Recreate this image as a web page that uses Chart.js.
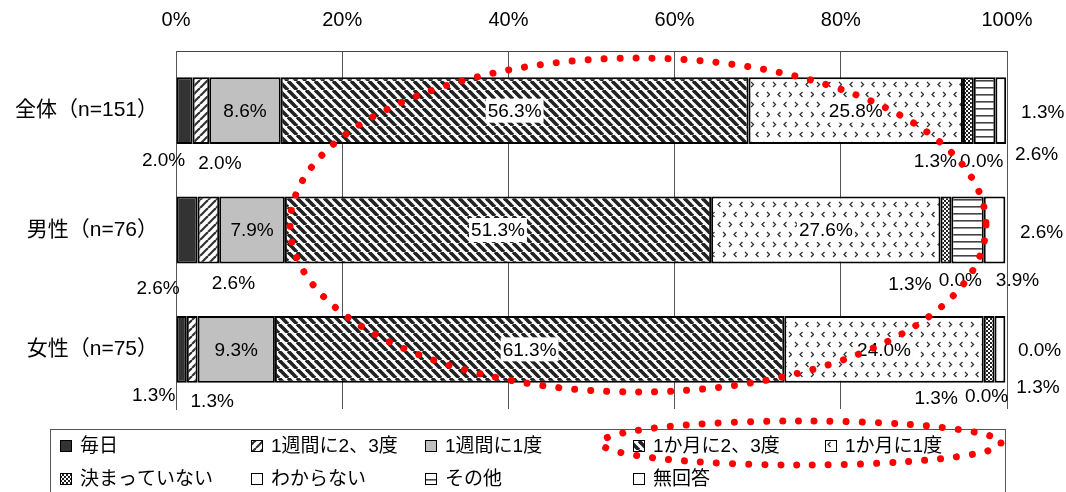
<!DOCTYPE html>
<html lang="ja">
<head>
<meta charset="utf-8">
<script src="https://cdn.jsdelivr.net/npm/chart.js@4.4.1/dist/chart.umd.min.js"></script>
<style>
html, body { margin: 0; padding: 0; background: #fff; }
</style>
</head>
<body>
<canvas id="myChart" width="1066" height="492"></canvas>
<script>
const categories = ['全体（n=151）', '男性（n=76）', '女性（n=75）'];
const seriesNames = ['毎日', '1週間に2、3度', '1週間に1度', '1か月に2、3度', '1か月に1度', '決まっていない', 'わからない', 'その他', '無回答'];
const everyDay = [2.0, 2.6, 1.3];
const weekTwoThree = [2.0, 2.6, 1.3];
const weekOnce = [8.6, 7.9, 9.3];
const monthTwoThree = [56.3, 51.3, 61.3];
const monthOnce = [25.8, 27.6, 24.0];
const notFixed = [1.3, 1.3, 1.3];
const dontKnow = [0.0, 0.0, 0.0];
const other = [2.6, 3.9, 0.0];
const noAnswer = [1.3, 2.6, 1.3];
const tickValues = [0, 20, 40, 60, 80, 100];

const FONT = '"Liberation Sans", "Noto Sans CJK JP", sans-serif';
const ctx = document.getElementById('myChart').getContext('2d');

function makePattern(w, h, draw) {
    const c = document.createElement('canvas');
    c.width = w; c.height = h;
    const g = c.getContext('2d');
    g.fillStyle = '#fff';
    g.fillRect(0, 0, w, h);
    draw(g, w, h);
    return ctx.createPattern(c, 'repeat');
}

// "/" thin stripes
const slashPattern = makePattern(8, 8, (g, w, h) => {
    g.strokeStyle = '#333'; g.lineWidth = 2.2;
    for (let k = -1; k <= 1; k++) {
        g.beginPath(); g.moveTo(k * w, h); g.lineTo(k * w + w, 0); g.stroke();
    }
});
// "\" heavy stripes
const backslashPattern = makePattern(9, 9, (g, w, h) => {
    g.strokeStyle = '#222'; g.lineWidth = 3.6;
    for (let k = -1; k <= 1; k++) {
        g.beginPath(); g.moveTo(k * w, 0); g.lineTo(k * w + w, h); g.stroke();
    }
});
// small chevrons
const chevronPattern = makePattern(22, 20, (g) => {
    g.strokeStyle = '#333'; g.lineWidth = 1.3;
    const gt = (x, y) => { g.beginPath(); g.moveTo(x, y); g.lineTo(x + 2.5, y + 2.5); g.lineTo(x, y + 5); g.stroke(); };
    const lt = (x, y) => { g.beginPath(); g.moveTo(x + 2.5, y); g.lineTo(x, y + 2.5); g.lineTo(x + 2.5, y + 5); g.stroke(); };
    gt(3, 2); lt(14, 2); lt(8, 12); gt(19, 12);
});
const checkerPattern = makePattern(4, 4, (g) => {
    g.fillStyle = '#222';
    g.fillRect(0, 0, 2, 2); g.fillRect(2, 2, 2, 2);
});
const hLinePattern = makePattern(8, 7, (g) => {
    g.fillStyle = '#444';
    g.fillRect(0, 3, 8, 1.6);
});

const seriesValues = [everyDay, weekTwoThree, weekOnce, monthTwoThree, monthOnce, notFixed, dontKnow, other, noAnswer];
const seriesFills = ['#333333', slashPattern, '#C0C0C0', backslashPattern, chevronPattern, checkerPattern, '#ffffff', hLinePattern, '#ffffff'];

// where the small-segment labels sit, relative to segment centre / bar centre
const smallLabelNudge = {
    0: [[-21, 49], [-29, 58], [-28, 45]],
    1: [[19, 52], [25, 53], [20, 51]],
    5: [[-33, 50], [-36, 54], [-53, 48]],
    6: [[8, 50], [9, 50], [-8, 46]],
    7: [[52, 43], [50, 50], [45, 0]],
    8: [[42, 1], [47, 2], [38, 37]]
};
const boxedSeries = [3, 4];

const segLabels = {
    id: 'segLabels',
    afterDatasetsDraw(chart) {
        const c = chart.ctx;
        c.save();
        c.font = '19px ' + FONT;
        c.textAlign = 'center';
        c.textBaseline = 'middle';
        chart.data.datasets.forEach((ds, si) => {
            chart.getDatasetMeta(si).data.forEach((bar, ci) => {
                const p = bar.getProps(['x', 'y', 'base'], true);
                const txt = ds.data[ci].toFixed(1) + '%';
                let cx = (p.x + p.base) / 2, cy = p.y;
                const nudge = smallLabelNudge[si];
                if (nudge) {
                    cx += nudge[ci][0]; cy += nudge[ci][1];
                } else if (boxedSeries.includes(si)) {
                    const w = c.measureText(txt).width;
                    c.fillStyle = '#fff';
                    c.fillRect(cx - w / 2 - 2, cy - 12, w + 4, 24);
                }
                c.fillStyle = '#000';
                c.fillText(txt, cx, cy + 1);
            });
        });
        c.restore();
    }
};

function dottedEllipse(c, x, y, rx, ry) {
    c.save();
    c.strokeStyle = '#FF0000';
    c.lineWidth = 7;
    c.lineCap = 'round';
    c.setLineDash([0.01, 16]);
    c.beginPath();
    c.ellipse(x, y, rx, ry, 0, 0, Math.PI * 2);
    c.stroke();
    c.restore();
}

const legendCols = [60, 251, 425, 633, 825];
const legendRows = [446, 479];

const extras = {
    id: 'extras',
    afterDraw(chart) {
        const c = chart.ctx;
        // legend frame
        c.save();
        c.strokeStyle = '#555';
        c.lineWidth = 1;
        c.strokeRect(50.5, 429.5, 955, 80);
        c.font = '19px ' + FONT;
        c.textAlign = 'left';
        c.textBaseline = 'middle';
        seriesNames.forEach((name, i) => {
            const x = legendCols[i % 5], y = legendRows[Math.floor(i / 5)];
            c.fillStyle = seriesFills[i];
            c.fillRect(x, y - 6, 12, 12);
            c.strokeStyle = '#000';
            c.strokeRect(x + 0.5, y - 5.5, 11, 11);
            c.fillStyle = '#000';
            c.fillText(name, x + 20, y + 1);
        });
        c.restore();
        dottedEllipse(c, 638, 225, 348, 167);
        dottedEllipse(c, 801, 443, 200, 22);
    }
};

const myChart = new Chart(ctx, {
    type: 'bar',
    data: {
        labels: categories,
        datasets: seriesNames.map((name, i) => ({
            label: name,
            data: seriesValues[i],
            backgroundColor: seriesFills[i],
            borderColor: '#000',
            borderWidth: 2,
            borderSkipped: false,
            barPercentage: 0.56,
            categoryPercentage: 1
        }))
    },
    options: {
        indexAxis: 'y',
        responsive: false,
        animation: false,
        layout: { padding: { left: 0, top: 0, right: 59, bottom: 83 } },
        plugins: {
            legend: { display: false },
            tooltip: { enabled: false }
        },
        scales: {
            x: {
                position: 'top',
                stacked: true,
                min: 0,
                max: 100,
                afterBuildTicks: s => { s.ticks = tickValues.map(v => ({ value: v })); },
                afterFit: s => { s.height = 51; },
                ticks: {
                    padding: 19,
                    color: '#000',
                    font: { family: FONT, size: 20 },
                    callback: v => v + '%'
                },
                grid: { color: '#555', lineWidth: 1, drawTicks: false },
                border: { color: '#444', width: 1 }
            },
            y: {
                stacked: true,
                afterFit: s => { s.width = 176; },
                ticks: {
                    padding: 18,
                    color: '#000',
                    font: { family: FONT, size: 21 }
                },
                grid: { display: false, drawTicks: false },
                border: { color: '#555', width: 1 }
            }
        }
    },
    plugins: [segLabels, extras]
});
</script>
</body>
</html>
